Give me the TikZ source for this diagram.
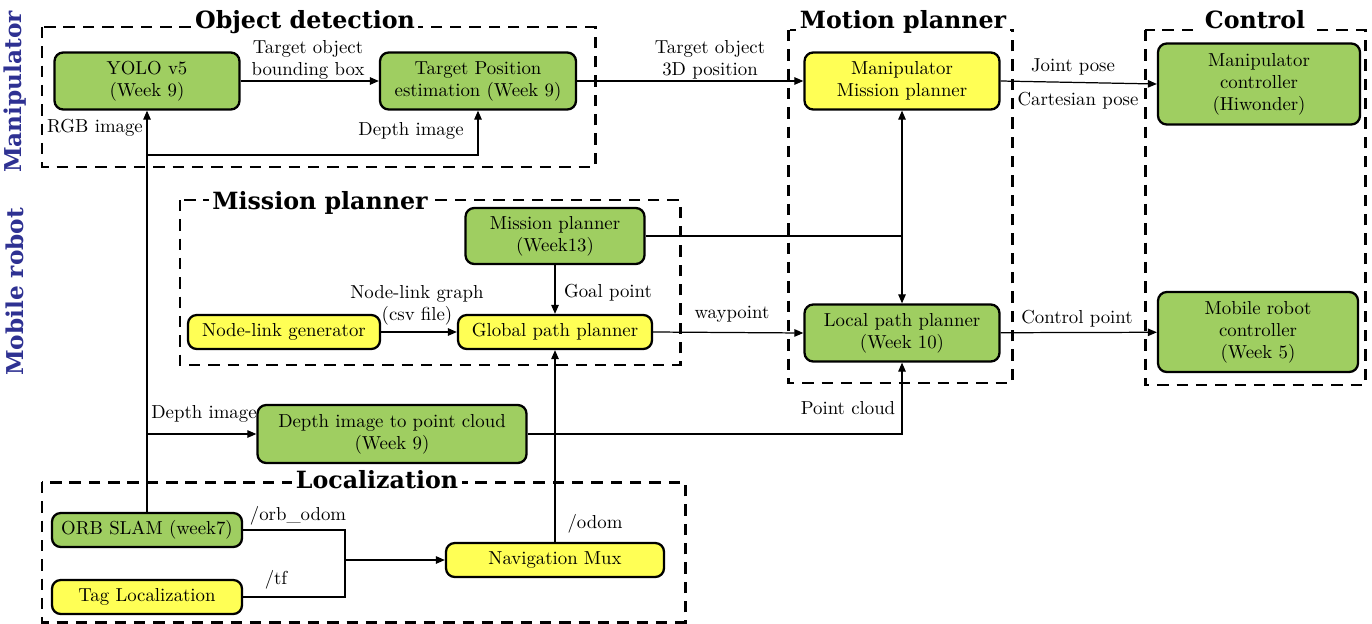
\documentclass[tikz,border=0pt]{standalone}
\usepackage{fontspec}
\usetikzlibrary{arrows.meta}
\newfontfamily\titlefont{DejaVu Serif}
\definecolor{boxgreen}{RGB}{159,206,97}
\definecolor{boxyellow}{RGB}{255,255,85}
\definecolor{sideblue}{RGB}{46,49,146}
\newcommand{\bodysize}{\fontsize{10.7}{12.5}\selectfont}
\tikzset{
  block/.style={draw, line width=1.3pt, rounded corners=5pt, align=center,
    inner sep=1pt, font=\bodysize},
  gblock/.style={block, fill=boxgreen},
  yblock/.style={block, fill=boxyellow},
  groupbox/.style={draw, line width=1.7pt, dash pattern=on 6.5pt off 4.5pt},
  grouptitle/.style={fill=white, inner sep=2pt, font=\titlefont\bfseries\fontsize{13.5}{15}\selectfont},
  sidetitle/.style={rotate=90, text=sideblue, font=\titlefont\bfseries\fontsize{13.2}{15}\selectfont},
  arr/.style={-{Triangle[length=1.8mm,width=1.5mm]}, line width=0.7pt},
  wire/.style={line width=0.7pt},
  lbl/.style={align=center, inner sep=1pt, font=\bodysize}
}
\begin{document}
\begin{tikzpicture}[x=0.2mm,y=-0.2mm]
  \useasboundingbox (0,0) rectangle (1372,623);

  % Groups
  \draw [groupbox] (42,27) rectangle (595,167);
  \draw [groupbox] (788,30) rectangle (1012,383);
  \draw [groupbox] (1145,30) rectangle (1365,385);
  \draw [groupbox] (180,200) rectangle (680,365);
  \draw [groupbox] (42,482) rectangle (685,622);

  \node [grouptitle] (tobj) at (305,22) {Object detection};
  \node [grouptitle] (tmotion) at (903,22) {Motion planner};
  \node [grouptitle] (tcontrol) at (1255,20) {Control};
  \node [grouptitle] (tmission) at (320,203) {Mission planner};
  \node [grouptitle] (tloc) at (377,480) {Localization};

  \node [sidetitle] (smanip) at (15,92) {Manipulator};
  \node [sidetitle] (smobile) at (15,292) {Mobile robot};

  % Blocks
  \node [gblock, minimum width=37mm, minimum height=11.4mm] (yolo) at (147,81) {YOLO v5\\(Week 9)};
  \node [gblock, minimum width=39.2mm, minimum height=11.4mm] (tpe) at (478,81) {Target Position\\estimation (Week 9)};
  \node [yblock, minimum width=39mm, minimum height=11.4mm] (mmp) at (902,81) {Manipulator\\Mission planner};
  \node [gblock, minimum width=40.4mm, minimum height=16.2mm] (mc) at (1259,84) {Manipulator\\controller\\(Hiwonder)};
  \node [gblock, minimum width=35.8mm, minimum height=11.2mm] (mp) at (555,236) {Mission planner\\(Week13)};
  \node [yblock, minimum width=38.4mm, minimum height=6.8mm] (nlg) at (284,332) {Node-link generator};
  \node [yblock, minimum width=38.8mm, minimum height=6.8mm] (gpp) at (555,332) {Global path planner};
  \node [gblock, minimum width=39mm, minimum height=11.4mm] (lpp) at (902,333) {Local path planner\\(Week 10)};
  \node [gblock, minimum width=40mm, minimum height=16mm] (mrc) at (1258,332) {Mobile robot\\controller\\(Week 5)};
  \node [gblock, minimum width=53.8mm, minimum height=11.6mm] (dpc) at (392,434) {Depth image to point cloud\\(Week 9)};
  \node [gblock, minimum width=38mm, minimum height=6.8mm] (orb) at (147,530) {ORB SLAM (week7)};
  \node [yblock, minimum width=38mm, minimum height=6.8mm] (tag) at (147,597) {Tag Localization};
  \node [yblock, minimum width=43.6mm, minimum height=6.8mm] (nav) at (555,560) {Navigation Mux};

  % Junctions
  \coordinate (rgbsplit) at (147,155);
  \coordinate (depthsplit) at (147,434);
  \coordinate (mpjoin) at (902,236);
  \coordinate (locjoin) at (345,560);

  % Connectors
  \draw [arr] (yolo) -- (tpe);
  \draw [arr] (tpe) -- (mmp);
  \draw [arr] (mmp.east) -- (mc.west);
  \draw [arr] (orb.north) -- (yolo.south);
  \draw [arr] (rgbsplit) -| (tpe.south);
  \draw [arr] (depthsplit) -- (dpc.west);
  \draw [arr] (dpc.east) -| (lpp.south);
  \draw [wire] (mp.east) -- (mpjoin);
  \draw [arr] (mpjoin) -- (mmp.south);
  \draw [arr] (mpjoin) -- (lpp.north);
  \draw [arr] (mp) -- (gpp);
  \draw [arr] (nlg) -- (gpp);
  \draw [arr] (gpp.east) -- (lpp.west);
  \draw [arr] (lpp) -- (mrc);
  \draw [arr] (nav) -- (gpp);
  \draw [wire] (orb.east) -| (locjoin);
  \draw [wire] (tag.east) -| (locjoin);
  \draw [arr] (locjoin) -- (nav.west);

  % Labels
  \node [lbl] (lbbox) at (308,60) {Target object\\bounding box};
  \node [lbl] (lrgb) at (95,128) {RGB image};
  \node [lbl] (ldepth) at (411,131) {Depth image};
  \node [lbl] (l3d) at (710,60) {Target object\\3D position};
  \node [lbl] (ljoint) at (1073,67) {Joint pose};
  \node [lbl] (lcart) at (1078,101) {Cartesian pose};
  \node [lbl] (lgoal) at (608,293) {Goal point};
  \node [lbl] (lgraph) at (417,305) {Node-link graph\\(csv file)};
  \node [lbl] (lway) at (732,314) {waypoint};
  \node [lbl] (lctrl) at (1077,319) {Control point};
  \node [lbl] (ldepth2) at (204,414) {Depth image};
  \node [lbl] (lcloud) at (848,408) {Point cloud};
  \node [lbl] (lorb) at (298,516) {/orb\_odom};
  \node [lbl] (ltf) at (276,580) {/tf};
  \node [lbl] (lodom) at (595,524) {/odom};
\end{tikzpicture}
\end{document}
